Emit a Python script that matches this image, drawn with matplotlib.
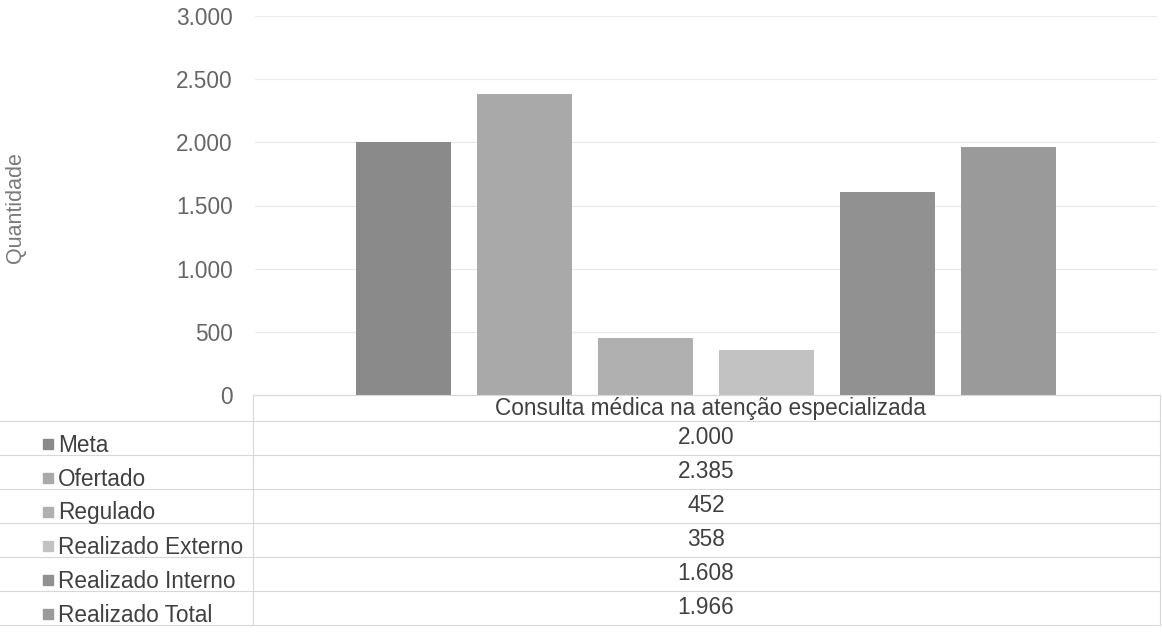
import matplotlib
matplotlib.use("Agg")
import matplotlib.pyplot as plt
from matplotlib.patches import Rectangle

plt.rcParams['font.family'] = ['Liberation Sans', 'DejaVu Sans']

category = "Consulta médica na atenção especializada"
series = ["Meta", "Ofertado", "Regulado", "Realizado Externo", "Realizado Interno", "Realizado Total"]
values = [2000, 2385, 452, 358, 1608, 1966]
value_labels = ["2.000", "2.385", "452", "358", "1.608", "1.966"]
colors = ["#8a8a8a", "#a9a9a9", "#b0b0b0", "#c2c2c2", "#919191", "#9a9a9a"]
yticks = [0, 500, 1000, 1500, 2000, 2500, 3000]
ytick_labels = ["0", "500", "1.000", "1.500", "2.000", "2.500", "3.000"]

W, H = 1162, 634
fig = plt.figure(figsize=(W / 100, H / 100), dpi=100)
FS = 16.3

# main bar axes
L, R, T, B = 255, 1157, 16, 395
ax = fig.add_axes([L / W, 1 - B / H, (R - L) / W, (B - T) / H])
x = list(range(len(series)))
ax.bar(x, values, width=0.785, color=colors, zorder=2)
ax.set_xlim(-1.227, 6.227)
ax.set_ylim(0, 3000)
ax.set_yticks(yticks)
ax.set_yticklabels(ytick_labels, fontsize=FS, color="#666666")
ax.tick_params(axis='y', length=0, pad=16)
ax.set_xticks([])
ax.grid(axis='y', color="#e8e8e8", lw=0.8, zorder=0)
for s in ax.spines.values():
    s.set_visible(False)
fig.text(16 / W, 1 - 208 / H, "Quantidade", rotation=90, fontsize=15.5,
         color="#7a7a7a", ha='center', va='center')

# data table
tax = fig.add_axes([0, 0, 1, 1])
tax.set_xlim(0, W)
tax.set_ylim(H, 0)
tax.axis('off')
line_c = "#d8d8d8"
top = 395
hdr = 421
row_h = 34
nrows = len(series)
bottom = hdr + nrows * row_h
right = 1160
tax.plot([L - 2, L - 2], [top, bottom], color=line_c, lw=0.8)
tax.plot([right, right], [top, bottom], color=line_c, lw=0.8)
tax.plot([L - 2, right], [top, top], color=line_c, lw=0.8)
tax.plot([0, right], [hdr, hdr], color=line_c, lw=0.8)
tax.text(710, (top + hdr) / 2 + 1, category, ha='center', va='center',
         fontsize=FS, color="#404040")
for i, (name, lab, c) in enumerate(zip(series, value_labels, colors)):
    yc = hdr + (i + 0.5) * row_h
    tax.plot([0, right], [hdr + (i + 1) * row_h] * 2, color=line_c, lw=0.8)
    tax.add_patch(Rectangle((43, yc + 6 - 5), 10, 10, color=c))
    tax.text(58, yc + 7, name, ha='left', va='center', fontsize=FS, color="#404040")
    tax.text(706, yc - 1, lab, ha='center', va='center', fontsize=FS, color="#404040")

fig.savefig("out.png", dpi=100)
